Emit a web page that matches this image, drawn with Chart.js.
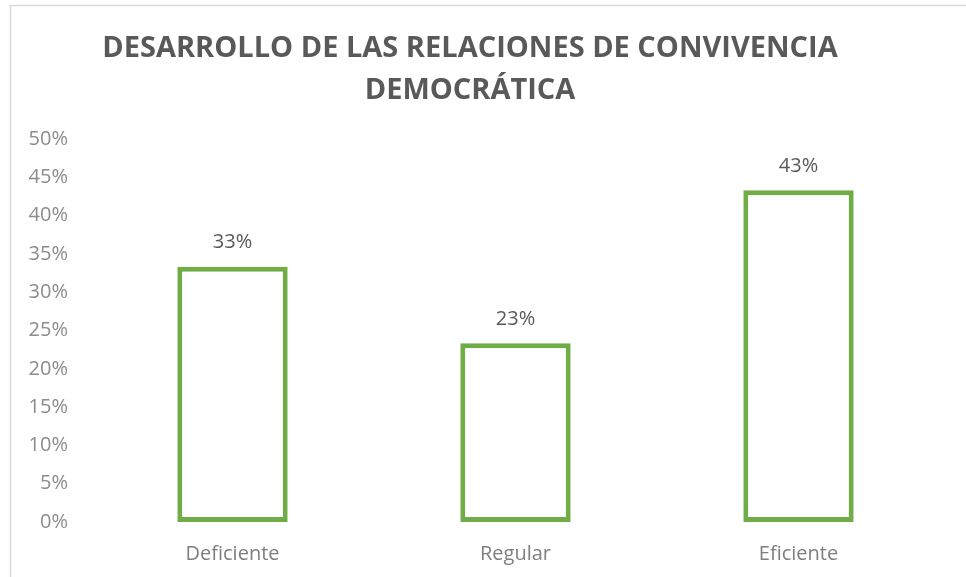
<!DOCTYPE html>
<html>
<head>
<meta charset="utf-8">
<script src="https://cdn.jsdelivr.net/npm/chart.js@4"></script>
<style>
  html, body { margin: 0; padding: 0; background: #fff; overflow: hidden; }
  #wrap { width: 966px; height: 577px; }
</style>
</head>
<body>
<div id="wrap"><canvas id="relChart" width="966" height="577"></canvas></div>
<script>
// --------------------- datos ---------------------
const titulo = ['DESARROLLO DE LAS RELACIONES DE CONVIVENCIA', 'DEMOCRÁTICA'];
const categorias = ['Deficiente', 'Regular', 'Eficiente'];
const porcentajes = [0.3333, 0.2333, 0.4333];
const ticksY = [0, 0.05, 0.10, 0.15, 0.20, 0.25, 0.30, 0.35, 0.40, 0.45, 0.50];

const verde = '#70AD47';

// fondo blanco + borde gris del gráfico (estilo excel)
const marcoPlugin = {
	id: 'marco',
	beforeDraw(chart) {
		const c = chart.ctx;
		c.save();
		c.fillStyle = '#fff';
		c.fillRect(0, 0, chart.width, chart.height);
		c.strokeStyle = '#d9d9d9';
		c.lineWidth = 1.5;
		c.beginPath();
		c.moveTo(10.5, chart.height);
		c.lineTo(10.5, 5.5);
		c.lineTo(chart.width, 5.5);
		c.stroke();
		c.restore();
	}
};

// etiquetas de datos encima de cada barra
const etiquetasPlugin = {
	id: 'etiquetas',
	afterDatasetsDraw(chart) {
		const c = chart.ctx;
		const meta = chart.getDatasetMeta(0);
		c.save();
		c.font = '20px "Open Sans"';
		c.fillStyle = '#595959';
		c.textAlign = 'center';
		c.textBaseline = 'middle';
		meta.data.forEach(function(bar, i) {
			const txt = Math.round(porcentajes[i] * 100) + '%';
			c.fillText(txt, bar.x, bar.y - 24);
		});
		c.restore();
	}
};

const ctx = document.querySelector('#relChart').getContext('2d');

const barChart = new Chart(ctx, {
	type: 'bar',
	data: {
		labels: categorias,
		datasets: [{
			data: porcentajes,
			backgroundColor: '#ffffff',
			borderColor: verde,
			borderWidth: 5,
			borderSkipped: false,
			categoryPercentage: 1,
			barPercentage: 0.39
		}]
	},
	options: {
		responsive: false,
		animation: false,
		layout: {
			padding: { left: 0, right: 26, top: 0, bottom: 0 }
		},
		plugins: {
			legend: { display: false },
			tooltip: { enabled: false },
			title: {
				display: true,
				text: titulo,
				color: '#595959',
				font: { family: 'Open Sans', size: 29, weight: 'bold', lineHeight: 1.45 },
				padding: { top: 28, bottom: 27 }
			}
		},
		scales: {
			y: {
				min: 0,
				max: 0.5,
				afterBuildTicks: function(axis) {
					axis.ticks = ticksY.map(function(v) { return { value: v }; });
				},
				afterFit: function(axis) { axis.width = 91; },
				grid: { display: false },
				border: { display: false },
				ticks: {
					color: '#8c8c8c',
					padding: 15,
					font: { family: 'Open Sans', size: 20 },
					callback: function(v) { return Math.round(v * 100) + '%'; }
				}
			},
			x: {
				afterFit: function(axis) { axis.height = 55; },
				grid: { display: false },
				border: { display: false },
				ticks: {
					color: '#7f7f7f',
					padding: 12,
					font: { family: 'Open Sans', size: 20 }
				}
			}
		}
	},
	plugins: [marcoPlugin, etiquetasPlugin]
});
</script>
</body>
</html>
